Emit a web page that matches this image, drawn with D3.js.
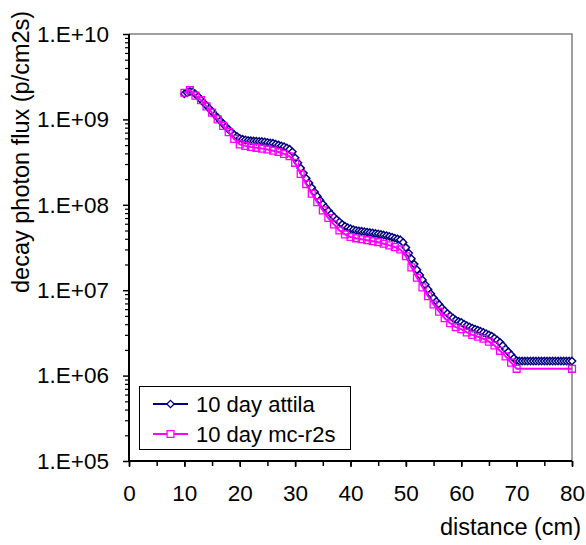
<!DOCTYPE html>
<html>
<head>
<meta charset="utf-8">
<script src="https://cdn.jsdelivr.net/npm/d3@7"></script>
<style>
  html, body { margin: 0; padding: 0; background: #fff; }
  svg { display: block; font-family: "Liberation Sans", Arial, sans-serif; }
</style>
</head>
<body>
<svg id="chart" width="586" height="545"></svg>
<script>
// Decay photon flux vs distance, 10 days after shutdown
const attilaX = [
  10, 10.5, 11, 11.5, 12, 12.5, 13, 13.5, 14, 14.5, 15, 15.5, 16, 16.5, 17, 17.5, 18, 18.5, 19, 19.5,
  20, 20.5, 21, 21.5, 22, 22.5, 23, 23.5, 24, 24.5, 25, 25.5, 26, 26.5, 27, 27.5, 28, 28.5, 29, 29.5,
  30, 30.5, 31, 31.5, 32, 32.5, 33, 33.5, 34, 34.5, 35, 35.5, 36, 36.5, 37, 37.5, 38, 38.5, 39, 39.5,
  40, 40.5, 41, 41.5, 42, 42.5, 43, 43.5, 44, 44.5, 45, 45.5, 46, 46.5, 47, 47.5, 48, 48.5, 49, 49.5,
  50, 50.5, 51, 51.5, 52, 52.5, 53, 53.5, 54, 54.5, 55, 55.5, 56, 56.5, 57, 57.5, 58, 58.5, 59, 59.5,
  60, 60.5, 61, 61.5, 62, 62.5, 63, 63.5, 64, 64.5, 65, 65.5, 66, 66.5, 67, 67.5, 68, 68.5, 69, 69.5,
  70, 70.5, 71, 71.5, 72, 72.5, 73, 73.5, 74, 74.5, 75, 75.5, 76, 76.5, 77, 77.5, 78, 78.5, 79, 79.5,
  80
];
const attilaFlux = [
  1.99e9, 2.05e9, 2.12e9, 2.10e9, 1.98e9, 1.85e9, 1.70e9, 1.57e9, 1.45e9, 1.34e9,
  1.23e9, 1.13e9, 1.05e9, 9.6e8, 8.9e8, 8.2e8, 7.6e8, 7.1e8, 6.6e8, 6.3e8,
  6.0e8, 5.85e8, 5.75e8, 5.68e8, 5.62e8, 5.58e8, 5.56e8, 5.52e8, 5.50e8, 5.44e8,
  5.37e8, 5.31e8, 5.25e8, 5.13e8, 5.01e8, 4.90e8, 4.79e8, 4.63e8, 4.47e8, 4.17e8,
  3.55e8, 3.10e8, 2.69e8, 2.35e8, 2.04e8, 1.80e8, 1.59e8, 1.41e8, 1.26e8, 1.13e8,
  1.02e8, 9.3e7, 8.5e7, 7.8e7, 7.2e7, 6.7e7, 6.3e7, 5.9e7, 5.6e7, 5.4e7,
  5.25e7, 5.12e7, 5.01e7, 4.95e7, 4.90e7, 4.85e7, 4.79e7, 4.73e7, 4.68e7, 4.62e7,
  4.57e7, 4.50e7, 4.42e7, 4.35e7, 4.27e7, 4.17e7, 4.07e7, 3.98e7, 3.89e7, 3.63e7,
  3.16e7, 2.72e7, 2.34e7, 2.02e7, 1.74e7, 1.51e7, 1.32e7, 1.16e7, 1.02e7, 9.1e6,
  8.1e6, 7.4e6, 6.8e6, 6.2e6, 5.75e6, 5.35e6, 5.01e6, 4.73e6, 4.47e6, 4.30e6,
  4.20e6, 4.00e6, 3.85e6, 3.72e6, 3.60e6, 3.50e6, 3.40e6, 3.30e6, 3.20e6, 3.10e6,
  3.00e6, 2.90e6, 2.75e6, 2.60e6, 2.45e6, 2.25e6, 2.05e6, 1.90e6, 1.75e6, 1.60e6,
  1.50e6, 1.48e6, 1.48e6, 1.48e6, 1.48e6, 1.48e6, 1.48e6, 1.48e6, 1.48e6, 1.48e6,
  1.48e6, 1.48e6, 1.48e6, 1.48e6, 1.48e6, 1.48e6, 1.48e6, 1.48e6, 1.48e6, 1.48e6,
  1.48e6
];
const mcX = [
  10, 11, 12, 13, 14, 15, 16, 17, 18, 19, 20, 21, 22, 23, 24, 25, 26, 27, 28, 29,
  30, 31, 32, 33, 34, 35, 36, 37, 38, 39, 40, 41, 42, 43, 44, 45, 46, 47, 48, 49,
  50, 51, 52, 53, 54, 55, 56, 57, 58, 59, 60, 61, 62, 63, 64, 65, 66, 67, 68, 69,
  70, 80
];
const mcFlux = [
  2.05e9, 2.2e9, 1.9e9, 1.68e9, 1.42e9, 1.2e9, 1.0e9, 8.4e8, 7.1e8, 5.9e8,
  5.1e8, 4.9e8, 4.75e8, 4.65e8, 4.55e8, 4.45e8, 4.3e8, 4.15e8, 3.95e8, 3.7e8,
  3.1e8, 2.3e8, 1.75e8, 1.35e8, 1.07e8, 8.6e7, 7.0e7, 5.9e7, 5.0e7, 4.5e7,
  4.2e7, 4.05e7, 3.95e7, 3.85e7, 3.75e7, 3.65e7, 3.5e7, 3.35e7, 3.2e7, 3.0e7,
  2.5e7, 1.85e7, 1.4e7, 1.08e7, 8.5e6, 6.8e6, 5.6e6, 4.7e6, 4.1e6, 3.7e6,
  3.5e6, 3.2e6, 3.0e6, 2.85e6, 2.7e6, 2.5e6, 2.25e6, 1.95e6, 1.68e6, 1.42e6,
  1.2e6, 1.2e6
];
const seriesNames = ["10 day attila", "10 day mc-r2s"];
const xTicks = [0, 10, 20, 30, 40, 50, 60, 70, 80];
const yTicks = [1e5, 1e6, 1e7, 1e8, 1e9, 1e10];
const yTickLabels = ["1.E+05", "1.E+06", "1.E+07", "1.E+08", "1.E+09", "1.E+10"];
const xTitle = "distance (cm)";
const yTitle = "decay photon flux (p/cm2s)";

const navy = "#000080", magenta = "#FF00FF";
const svg = d3.select("#chart");
const plot = { left: 129, right: 572, top: 34, bottom: 461 };
const tickFont = 22.5, titleFont = 23.5, legendFont = 22;

const x = d3.scaleLinear().domain([0, 80]).range([plot.left, plot.right]);
const y = d3.scaleLog().domain([1e5, 1e10]).range([plot.bottom, plot.top]);

// frame: grey top/right, black axes
svg.append("path")
  .attr("d", `M${plot.left},${plot.top}H${plot.right}V${plot.bottom}`)
  .attr("fill", "none").attr("stroke", "#808080").attr("stroke-width", 1.5);

// x axis with minor ticks every 5 cm
const xMinor = d3.range(0, 81, 5);
const gx = svg.append("g").attr("transform", `translate(0,${plot.bottom})`);
gx.call(d3.axisBottom(x).tickValues(xMinor).tickSize(5).tickFormat(""))
  .call(g => g.select(".domain").remove())
  .selectAll("line").attr("stroke", "#000").attr("stroke-width", 1.5);
gx.append("g").call(d3.axisBottom(x).tickValues(xTicks).tickSize(6).tickPadding(18).tickFormat(d3.format("d")))
  .call(g => g.select(".domain").remove())
  .call(g => g.selectAll("line").attr("stroke", "#000").attr("stroke-width", 1.5))
  .call(g => g.selectAll("text").attr("font-size", tickFont).attr("fill", "#000")
    .attr("font-family", "Liberation Sans, Arial, sans-serif"));

// y axis with minor ticks
const yMinor = [];
yTicks.slice(0, -1).forEach(t => { for (let k = 2; k <= 9; k++) yMinor.push(t * k); });
const gy = svg.append("g").attr("transform", `translate(${plot.left},0)`);
gy.call(d3.axisLeft(y).tickValues(yMinor).tickSize(4).tickFormat(""))
  .call(g => g.select(".domain").remove())
  .selectAll("line").attr("stroke", "#000").attr("stroke-width", 1.2);
gy.append("g").call(d3.axisLeft(y).tickValues(yTicks).tickSize(6).tickPadding(14)
    .tickFormat((d, i) => yTickLabels[i]))
  .call(g => g.select(".domain").remove())
  .call(g => g.selectAll("line").attr("stroke", "#000").attr("stroke-width", 1.5))
  .call(g => g.selectAll("text").attr("font-size", tickFont).attr("fill", "#000")
    .attr("font-family", "Liberation Sans, Arial, sans-serif"));

svg.append("path")
  .attr("d", `M${plot.left},${plot.top}V${plot.bottom}H${plot.right}`)
  .attr("fill", "none").attr("stroke", "#000").attr("stroke-width", 2);

// titles
svg.append("text").attr("x", 581).attr("y", 535).attr("text-anchor", "end")
  .attr("font-size", titleFont).text(xTitle);
svg.append("text").attr("transform", "translate(29,293) rotate(-90)")
  .attr("font-size", titleFont).text(yTitle);

// series
const attila = attilaX.map((d, i) => [d, attilaFlux[i]]);
const mc = mcX.map((d, i) => [d, mcFlux[i]]);
const line = d3.line().x(d => x(d[0])).y(d => y(d[1]));
const diamond = d3.symbol().type(d3.symbolDiamond2).size(34);
const square = d3.symbol().type(d3.symbolSquare2).size(60);

svg.append("path").datum(attila).attr("d", line)
  .attr("fill", "none").attr("stroke", navy).attr("stroke-width", 2);
svg.append("g").selectAll("path").data(attila).join("path")
  .attr("transform", d => `translate(${x(d[0])},${y(d[1])})`)
  .attr("d", diamond).attr("fill", "#fff").attr("stroke", navy).attr("stroke-width", 1.5);

svg.append("path").datum(mc).attr("d", line)
  .attr("fill", "none").attr("stroke", magenta).attr("stroke-width", 2);
svg.append("g").selectAll("path").data(mc).join("path")
  .attr("transform", d => `translate(${x(d[0])},${y(d[1])})`)
  .attr("d", square).attr("fill", "none").attr("stroke", magenta).attr("stroke-width", 1.3);

// legend
const lg = svg.append("g");
lg.append("rect").attr("x", 139.5).attr("y", 386.5).attr("width", 211).attr("height", 63)
  .attr("fill", "#fff").attr("stroke", "#000").attr("stroke-width", 1);
const legendRows = [
  { name: seriesNames[0], color: navy, sym: diamond, cy: 404 },
  { name: seriesNames[1], color: magenta, sym: square, cy: 434 }
];
legendRows.forEach(r => {
  lg.append("line").attr("x1", 153).attr("x2", 188).attr("y1", r.cy).attr("y2", r.cy)
    .attr("stroke", r.color).attr("stroke-width", 2);
  lg.append("path").attr("transform", `translate(170.5,${r.cy})`).attr("d", r.sym)
    .attr("fill", "#fff").attr("stroke", r.color).attr("stroke-width", 1.3);
  lg.append("text").attr("x", 196).attr("y", r.cy).attr("dy", "0.36em")
    .attr("font-size", legendFont).text(r.name);
});
</script>
</body>
</html>
